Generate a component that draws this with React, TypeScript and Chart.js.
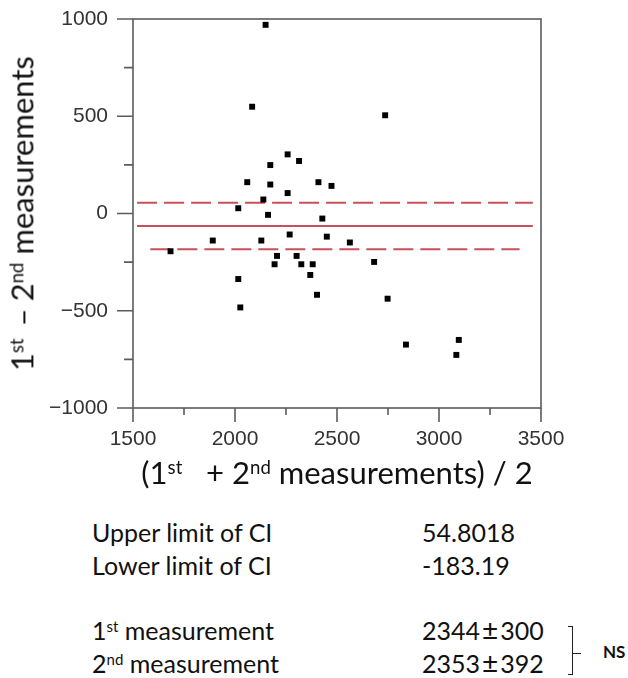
import React, { useEffect, useRef } from "react";
import { Chart, registerables } from "chart.js";

Chart.register(...registerables);

// Bland-Altman data: mean of the two measurements (x) and their difference (y)
const meanValues = [
  2150, 2084, 2060, 2173, 2173, 2258, 2314, 2258, 2139, 2016, 2162, 2268,
  1684, 1891, 2129, 2206, 2194, 2302, 2325, 2381, 2369, 2402, 2016, 2026,
  2409, 2736, 2473, 2428, 2450, 2563, 2682, 2748, 2838, 3097, 3085,
];
const diffValues = [
  970, 549, 161, 249, 149, 304, 270, 105, 72, 27, -7, -108,
  -194, -139, -139, -218, -261, -218, -261, -261, -316, -418, -337, -483,
  161, 505, 142, -26, -119, -149, -249, -438, -674, -650, -727,
];

const upperCI = 54.8018;
const lowerCI = -183.19;
const meanDiff = (upperCI + lowerCI) / 2;
const upperLineX = [1520, 3460];
const meanLineX = [1520, 3460];
const lowerLineX = [1585, 3395];

const xMajorTicks = [1500, 2000, 2500, 3000, 3500];
const xMinorTicks = [1750, 2250, 2750, 3250];
const yMajorTicks = [-1000, -500, 0, 500, 1000];
const yMinorTicks = [-750, -250, 250, 750];

const ciLabels = ["Upper limit of CI", "Lower limit of CI"];
const ciValues = ["54.8018", "-183.19"];
const measureMeans = ["2344", "2353"];
const measureSDs = ["300", "392"];

const LINE_RED = "#c9505a";
const AXIS_GRAY = "#5c5c5c";

const frameTicksPlugin = {
  id: "frameTicks",
  afterDatasetsDraw(chart: any) {
    const { ctx, chartArea: a, scales } = chart;
    const x = scales.x;
    const y = scales.y;
    ctx.save();
    ctx.strokeStyle = AXIS_GRAY;
    ctx.lineWidth = 1.6;
    ctx.strokeRect(a.left, a.top, a.right - a.left, a.bottom - a.top);
    ctx.beginPath();
    for (const v of yMajorTicks) {
      const py = y.getPixelForValue(v);
      ctx.moveTo(a.left - 16, py);
      ctx.lineTo(a.left, py);
    }
    for (const v of yMinorTicks) {
      const py = y.getPixelForValue(v);
      ctx.moveTo(a.left - 9, py);
      ctx.lineTo(a.left, py);
    }
    for (const v of xMajorTicks) {
      const px = x.getPixelForValue(v);
      ctx.moveTo(px, a.bottom);
      ctx.lineTo(px, a.bottom + 14);
    }
    for (const v of xMinorTicks) {
      const px = x.getPixelForValue(v);
      ctx.moveTo(px, a.bottom);
      ctx.lineTo(px, a.bottom + 7);
    }
    ctx.stroke();
    ctx.restore();
  },
};

const CANVAS_W = 628;
const CANVAS_H = 470;

export default function App() {
  const canvasRef = useRef<HTMLCanvasElement | null>(null);

  useEffect(() => {
    if (!canvasRef.current) return;
    const points = meanValues.map((m, i) => ({ x: m, y: diffValues[i] }));
    const chart = new Chart(canvasRef.current, {
      type: "scatter",
      data: {
        datasets: [
          {
            label: "differences",
            data: points,
            pointStyle: "rect",
            pointRadius: 4.2,
            pointBackgroundColor: "#000",
            pointBorderWidth: 0,
            borderColor: "#000",
          },
          {
            label: "upper CI",
            data: upperLineX.map((v) => ({ x: v, y: upperCI })),
            showLine: true,
            pointRadius: 0,
            borderColor: LINE_RED,
            borderWidth: 2,
            borderDash: [20, 7],
          },
          {
            label: "mean",
            data: meanLineX.map((v) => ({ x: v, y: meanDiff })),
            showLine: true,
            pointRadius: 0,
            borderColor: LINE_RED,
            borderWidth: 2,
          },
          {
            label: "lower CI",
            data: lowerLineX.map((v) => ({ x: v, y: lowerCI })),
            showLine: true,
            pointRadius: 0,
            borderColor: LINE_RED,
            borderWidth: 2,
            borderDash: [20, 7],
          },
        ],
      },
      options: {
        animation: false,
        responsive: false,
        devicePixelRatio: 1,
        layout: { padding: { top: 19, right: 87, left: 0, bottom: 0 } },
        plugins: { legend: { display: false }, tooltip: { enabled: false } },
        scales: {
          x: {
            type: "linear",
            min: 1500,
            max: 3500,
            grid: { display: false, drawTicks: false },
            border: { display: false },
            ticks: {
              stepSize: 500,
              padding: 19,
              color: "#333",
              font: { family: "Liberation Sans", size: 21 },
              maxRotation: 0,
              callback: (v: any) => String(v),
            },
            afterFit: (s: any) => {
              s.height = CANVAS_H - 408;
            },
          },
          y: {
            type: "linear",
            min: -1000,
            max: 1000,
            grid: { display: false, drawTicks: false },
            border: { display: false },
            ticks: {
              stepSize: 500,
              padding: 25,
              color: "#333",
              font: { family: "Liberation Sans", size: 21 },
              callback: (v: any) => (v < 0 ? "\u2212" + Math.abs(v) : String(v)),
            },
            afterFit: (s: any) => {
              s.width = 133;
              s.paddingTop = 0;
              s.paddingBottom = 0;
            },
          },
        },
      },
      plugins: [frameTicksPlugin],
    });
    return () => chart.destroy();
  }, []);

  const textFont = "Lato, 'Open Sans', sans-serif";
  const supStyle: React.CSSProperties = { fontSize: "0.6em", verticalAlign: "0.55em", lineHeight: 0 };
  const rowFont = 25;
  const row = (baseline: number, left: number, content: React.ReactNode, extra?: React.CSSProperties) => (
    <div
      style={{
        position: "absolute",
        left,
        top: baseline - 0.987 * rowFont,
        fontFamily: textFont,
        fontSize: rowFont,
        lineHeight: `${rowFont * 1.2}px`,
        color: "#111",
        whiteSpace: "pre",
        ...extra,
      }}
    >
      {content}
    </div>
  );
  const pm = <span style={{ fontSize: "1.12em", margin: "0 2px", lineHeight: 0 }}>{"\u00b1"}</span>;
  const titleFont = 31;

  return (
    <div style={{ position: "absolute", left: 0, top: 0, width: 628, height: 678, background: "#fff", overflow: "hidden" }}>
      <canvas
        ref={canvasRef}
        width={CANVAS_W}
        height={CANVAS_H}
        style={{ position: "absolute", left: 0, top: 0, width: CANVAS_W, height: CANVAS_H }}
      />
      {/* y axis title */}
      <div
        style={{
          position: "absolute",
          left: 22 - 200,
          top: 214 - titleFont * 0.6,
          width: 400,
          height: titleFont * 1.2,
          textAlign: "center",
          transform: "rotate(-90deg)",
          transformOrigin: "50% 50%",
          fontFamily: textFont,
          fontSize: titleFont,
          lineHeight: `${titleFont * 1.2}px`,
          color: "#111",
          whiteSpace: "pre",
        }}
      >
        1<span style={supStyle}>st</span>
        <span style={{ marginLeft: 12, marginRight: 7 }}>{"\u2013"}</span>
        2<span style={supStyle}>nd</span> measurements
      </div>
      {/* x axis title */}
      <div
        style={{
          position: "absolute",
          left: 337,
          top: 485 - 0.987 * titleFont,
          transform: "translateX(-50%)",
          fontFamily: textFont,
          fontSize: titleFont,
          lineHeight: `${titleFont * 1.2}px`,
          color: "#111",
          whiteSpace: "pre",
        }}
      >
        (1<span style={supStyle}>st</span>   + 2<span style={supStyle}>nd</span> measurements) / 2
      </div>
      {row(541.7, 92, ciLabels[0])}
      {row(575, 92, ciLabels[1])}
      {row(541.7, 422, ciValues[0])}
      {row(575, 422, ciValues[1])}
      {row(640, 92, <>1<span style={supStyle}>st</span> measurement</>)}
      {row(673, 92, <>2<span style={supStyle}>nd</span> measurement</>)}
      {row(640, 422, <>{measureMeans[0]}{pm}{measureSDs[0]}</>)}
      {row(673, 422, <>{measureMeans[1]}{pm}{measureSDs[1]}</>)}
      {/* bracket */}
      <div
        style={{
          position: "absolute",
          left: 568,
          top: 626,
          width: 5,
          height: 49,
          borderTop: "1.5px solid #222",
          borderRight: "1.5px solid #222",
          borderBottom: "1.5px solid #222",
          boxSizing: "border-box",
        }}
      />
      <div style={{ position: "absolute", left: 573, top: 652.5, width: 8, height: 0, borderTop: "1.5px solid #222" }} />
      <div
        style={{
          position: "absolute",
          left: 603,
          top: 652 - 10,
          fontFamily: textFont,
          fontWeight: 700,
          fontSize: 17,
          lineHeight: "20px",
          color: "#111",
        }}
      >
        NS
      </div>
    </div>
  );
}
